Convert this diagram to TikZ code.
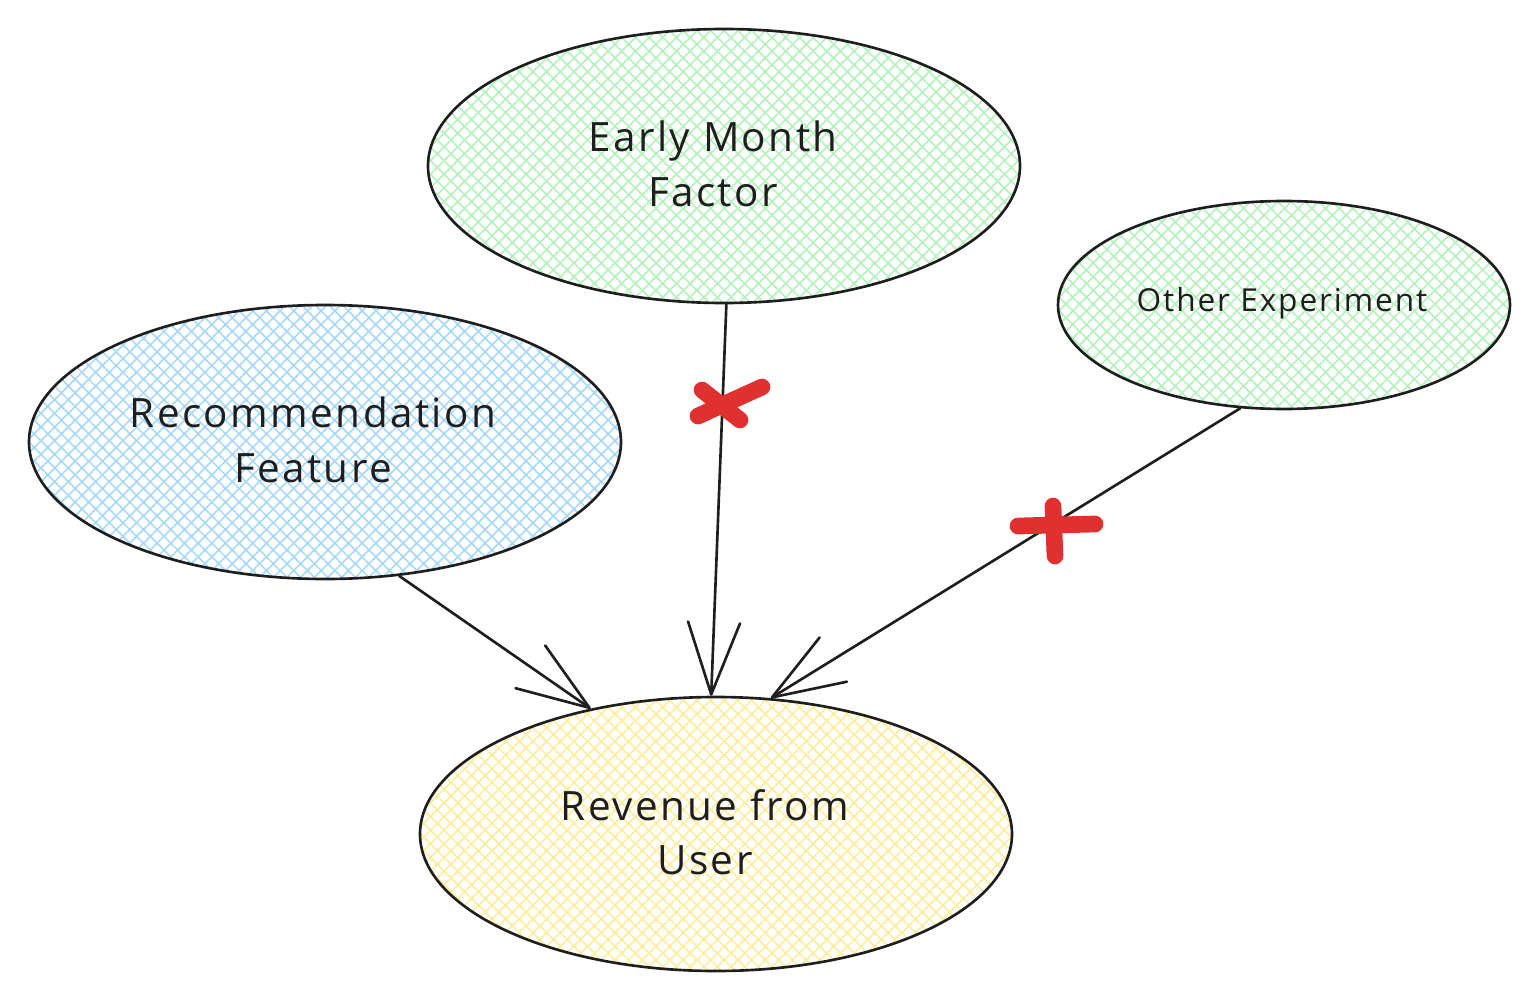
\documentclass[tikz,border=0pt]{standalone}
\usepackage{fontspec}
\setmainfont{Open Sans}[LetterSpace=6]
\usetikzlibrary{shapes.geometric,arrows.meta,patterns.meta}
\definecolor{ink}{HTML}{1E1E1E}
\definecolor{hgreen}{HTML}{B2F2BB}
\definecolor{hblue}{HTML}{A5D8FF}
\definecolor{hyellow}{HTML}{FFEC99}
\definecolor{mark}{HTML}{E03131}
\tikzset{
  blob/.style={ellipse, draw=ink, line width=1.5pt, inner sep=0pt,
    pattern={Hatch[angle=45,distance=5.5pt,line width=0.9pt]}},
  lbl/.style={font=\fontsize{23}{31}\selectfont, text=ink, align=center},
  smalllbl/.style={font=\fontsize{18}{22}\selectfont, text=ink, align=center},
  conn/.style={draw=ink, line width=1.5pt, line cap=round,
    -{Straight Barb[length=1.44cm,width=1.04cm,round,line width=1.5pt]}},
  cross/.style={draw=mark, line width=9.5pt, line cap=round},
}
\begin{document}
\begin{tikzpicture}[x=0.02cm,y=-0.02cm]
\useasboundingbox (0,0) rectangle (1539,1001);
\node[blob, pattern color=hgreen, minimum width=592*0.02cm, minimum height=274*0.02cm] (early) at (724,166) {};
\node[blob, pattern color=hgreen, minimum width=452*0.02cm, minimum height=208*0.02cm] (other) at (1284,305) {};
\node[blob, pattern color=hblue, minimum width=592*0.02cm, minimum height=274*0.02cm] (rec) at (325,442) {};
\node[blob, pattern color=hyellow, minimum width=592*0.02cm, minimum height=274*0.02cm] (rev) at (716,834) {};

\node[lbl] (earlyt) at (713,164) {Early Month\\Factor};
\node[smalllbl] (othert) at (1282,303) {Other Experiment};
\node[lbl] (rect) at (313,440) {Recommendation\\Feature};
\node[lbl] (revt) at (705,832) {Revenue from\\User};

\draw[conn] (rec.-61.6) -- (rev.135.7);
\draw[conn] (early.-89.2) -- (rev.92.9);
\draw[conn] (other.-113.7) -- (rev.68.6);

\draw[cross] (702,390) -- (740,420);
\draw[cross] (762,387) -- (698,416);
\draw[cross] (1018,526) -- (1095,524);
\draw[cross] (1053,506) -- (1055,556);
\end{tikzpicture}
\end{document}
